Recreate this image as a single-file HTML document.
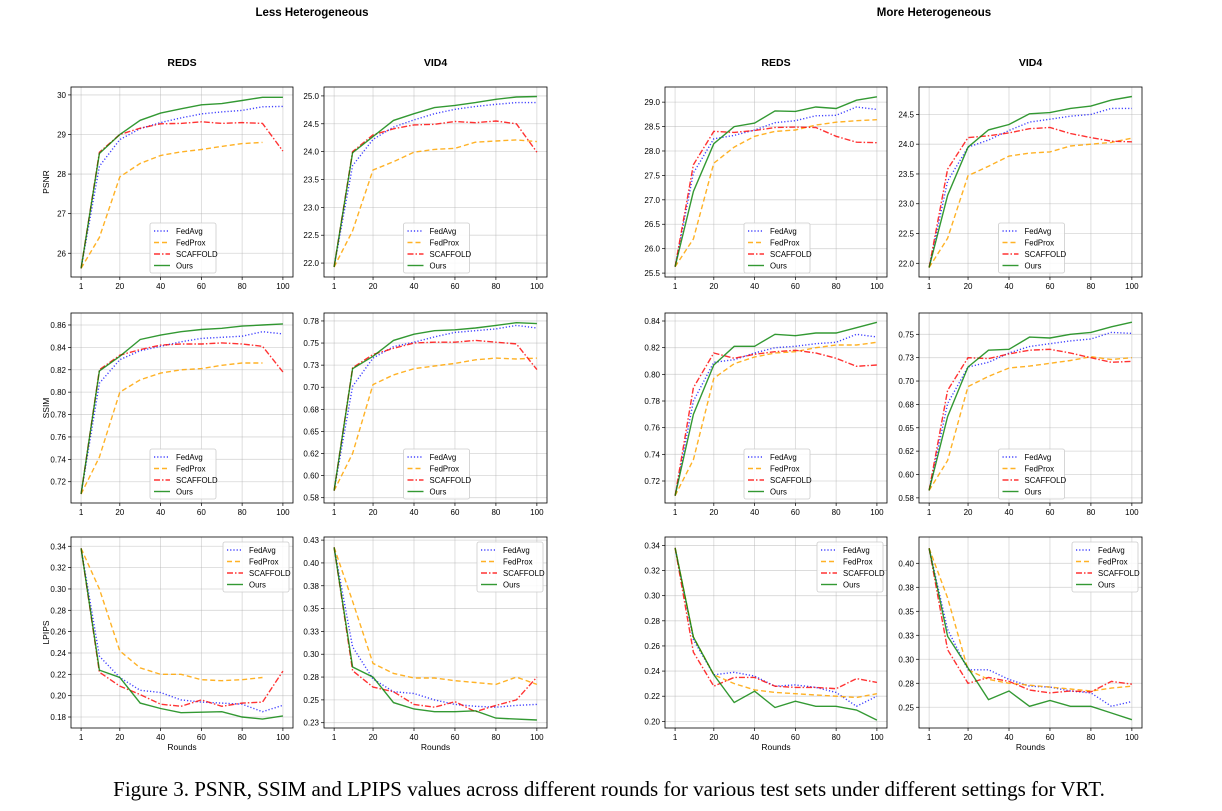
<!DOCTYPE html>
<html><head><meta charset="utf-8"><style>
body{margin:0;background:#fff;width:1222px;height:811px;overflow:hidden}
svg{display:block}
text{font-family:"Liberation Sans","DejaVu Sans",sans-serif}
</style></head><body>
<svg id="fig" width="1222" height="811" viewBox="0 0 1222 811" xmlns="http://www.w3.org/2000/svg">
<text x="312" y="16" text-anchor="middle" font-size="11.5" font-weight="bold">Less Heterogeneous</text>
<text x="934" y="16" text-anchor="middle" font-size="11.5" font-weight="bold">More Heterogeneous</text>
<text x="609" y="796" text-anchor="middle" font-size="21" style="font-family:'Liberation Serif',serif">Figure 3. PSNR, SSIM and LPIPS values across different rounds for various test sets under different settings for VRT.</text>
</svg>
<script>
const rounds=[1,10,20,30,40,50,60,70,80,90,100];
const xTicks=[1,20,40,60,80,100];
const methods=["FedAvg","FedProx","SCAFFOLD","Ours"];
// P1 REDS less PSNR
const p1FedAvg=[25.62,28.2,28.87,29.15,29.3,29.42,29.52,29.57,29.61,29.7,29.71];
const p1FedProx=[25.62,26.4,27.93,28.27,28.47,28.56,28.62,28.7,28.77,28.8,null];
const p1Scaffold=[25.62,28.55,29.0,29.16,29.27,29.28,29.32,29.28,29.3,29.28,28.58];
const p1Ours=[25.62,28.52,29.0,29.36,29.54,29.65,29.75,29.78,29.86,29.94,29.94];
const p1Ticks=[26,27,28,29,30];const p1Labels=["26","27","28","29","30"];
// P2 VID4 less PSNR
const p2FedAvg=[21.93,23.75,24.22,24.44,24.57,24.68,24.76,24.81,24.85,24.88,24.88];
const p2FedProx=[21.93,22.58,23.67,23.82,23.99,24.04,24.06,24.17,24.19,24.21,24.18];
const p2Scaffold=[21.93,24.0,24.3,24.41,24.48,24.49,24.54,24.52,24.55,24.5,23.99];
const p2Ours=[21.93,23.98,24.27,24.56,24.68,24.79,24.83,24.88,24.94,24.98,24.99];
const p2Ticks=[22,22.5,23,23.5,24,24.5,25];const p2Labels=["22.0","22.5","23.0","23.5","24.0","24.5","25.0"];
// P3 REDS more PSNR
const p3FedAvg=[25.63,27.55,28.25,28.32,28.43,28.58,28.62,28.72,28.73,28.9,28.85];
const p3FedProx=[25.63,26.2,27.75,28.08,28.3,28.4,28.43,28.53,28.59,28.62,28.64];
const p3Scaffold=[25.63,27.72,28.4,28.38,28.42,28.48,28.49,28.48,28.3,28.18,28.17];
const p3Ours=[25.63,27.17,28.15,28.5,28.57,28.82,28.81,28.9,28.87,29.04,29.11];
const p3Ticks=[25.5,26,26.5,27,27.5,28,28.5,29];const p3Labels=["25.5","26.0","26.5","27.0","27.5","28.0","28.5","29.0"];
// P4 VID4 more PSNR
const p4FedAvg=[21.93,23.38,23.95,24.07,24.23,24.37,24.42,24.47,24.5,24.6,24.6];
const p4FedProx=[21.93,22.42,23.47,23.63,23.8,23.85,23.87,23.97,24.0,24.03,24.1];
const p4Scaffold=[21.93,23.58,24.11,24.14,24.19,24.26,24.28,24.18,24.11,24.05,24.04];
const p4Ours=[21.93,23.14,23.95,24.24,24.33,24.51,24.53,24.6,24.64,24.74,24.8];
const p4Ticks=[22,22.5,23,23.5,24,24.5];const p4Labels=["22.0","22.5","23.0","23.5","24.0","24.5"];
// P5 REDS less SSIM
const p5FedAvg=[0.709,0.808,0.829,0.837,0.841,0.845,0.848,0.849,0.850,0.854,0.852];
const p5FedProx=[0.709,0.742,0.800,0.811,0.817,0.820,0.821,0.824,0.826,0.826,null];
const p5Scaffold=[0.709,0.820,0.833,0.838,0.842,0.843,0.843,0.844,0.843,0.841,0.818];
const p5Ours=[0.709,0.819,0.832,0.847,0.851,0.854,0.856,0.857,0.859,0.860,0.861];
const p5Ticks=[0.72,0.74,0.76,0.78,0.80,0.82,0.84,0.86];const p5Labels=["0.72","0.74","0.76","0.78","0.80","0.82","0.84","0.86"];
// P6 VID4 less SSIM
const p6FedAvg=[0.583,0.701,0.733,0.746,0.751,0.757,0.762,0.764,0.766,0.770,0.767];
const p6FedProx=[0.583,0.625,0.703,0.714,0.721,0.724,0.727,0.731,0.733,0.732,0.733];
const p6Scaffold=[0.583,0.722,0.737,0.744,0.750,0.751,0.751,0.753,0.751,0.749,0.720];
const p6Ours=[0.583,0.721,0.735,0.753,0.760,0.764,0.765,0.767,0.770,0.773,0.772];
const p6Ticks=[0.575,0.6,0.625,0.65,0.675,0.7,0.725,0.75,0.775];const p6Labels=["0.58","0.60","0.62","0.65","0.68","0.70","0.73","0.75","0.78"];
// P7 REDS more SSIM
const p7FedAvg=[0.709,0.780,0.809,0.811,0.816,0.820,0.821,0.823,0.824,0.830,0.828];
const p7FedProx=[0.709,0.736,0.797,0.808,0.813,0.816,0.817,0.820,0.822,0.822,0.824];
const p7Scaffold=[0.709,0.790,0.816,0.812,0.815,0.817,0.818,0.816,0.812,0.806,0.807];
const p7Ours=[0.709,0.770,0.807,0.821,0.821,0.830,0.829,0.831,0.831,0.835,0.839];
const p7Ticks=[0.72,0.74,0.76,0.78,0.80,0.82,0.84];const p7Labels=["0.72","0.74","0.76","0.78","0.80","0.82","0.84"];
// P8 VID4 more SSIM
const p8FedAvg=[0.583,0.676,0.715,0.720,0.730,0.737,0.740,0.743,0.745,0.752,0.751];
const p8FedProx=[0.583,0.615,0.694,0.705,0.714,0.716,0.719,0.722,0.726,0.723,0.725];
const p8Scaffold=[0.583,0.690,0.725,0.724,0.729,0.733,0.734,0.730,0.725,0.720,0.721];
const p8Ours=[0.583,0.662,0.715,0.733,0.734,0.747,0.746,0.750,0.752,0.758,0.763];
const p8Ticks=[0.575,0.6,0.625,0.65,0.675,0.7,0.725,0.75];const p8Labels=["0.58","0.60","0.62","0.65","0.68","0.70","0.73","0.75"];
// P9 REDS less LPIPS
const p9FedAvg=[0.338,0.237,0.217,0.205,0.203,0.196,0.194,0.193,0.192,0.185,0.191];
const p9FedProx=[0.338,0.300,0.242,0.226,0.220,0.220,0.215,0.214,0.215,0.217,null];
const p9Scaffold=[0.338,0.222,0.209,0.201,0.192,0.190,0.196,0.190,0.193,0.194,0.223];
const p9Ours=[0.338,0.224,0.217,0.193,0.188,0.184,0.1845,0.185,0.180,0.178,0.181];
const p9Ticks=[0.18,0.20,0.22,0.24,0.26,0.28,0.30,0.32,0.34];const p9Labels=["0.18","0.20","0.22","0.24","0.26","0.28","0.30","0.32","0.34"];
// P10 VID4 less LPIPS
const p10FedAvg=[0.417,0.308,0.273,0.259,0.257,0.250,0.245,0.243,0.242,0.244,0.245];
const p10FedProx=[0.417,0.358,0.290,0.279,0.274,0.274,0.271,0.269,0.267,0.275,0.267];
const p10Scaffold=[0.417,0.282,0.264,0.259,0.245,0.242,0.248,0.237,0.244,0.250,0.275];
const p10Ours=[0.417,0.286,0.275,0.247,0.240,0.237,0.237,0.238,0.230,0.229,0.228];
const p10Ticks=[0.225,0.25,0.275,0.3,0.325,0.35,0.375,0.4,0.425];const p10Labels=["0.23","0.25","0.28","0.30","0.33","0.35","0.38","0.40","0.43"];
// P11 REDS more LPIPS
const p11FedAvg=[0.338,0.265,0.237,0.239,0.236,0.228,0.229,0.227,0.223,0.212,0.220];
const p11FedProx=[0.338,0.267,0.237,0.230,0.225,0.223,0.222,0.221,0.220,0.219,0.222];
const p11Scaffold=[0.338,0.255,0.228,0.235,0.235,0.228,0.227,0.227,0.226,0.234,0.231];
const p11Ours=[0.338,0.267,0.237,0.215,0.224,0.211,0.216,0.212,0.212,0.209,0.201];
const p11Ticks=[0.20,0.22,0.24,0.26,0.28,0.30,0.32,0.34];const p11Labels=["0.20","0.22","0.24","0.26","0.28","0.30","0.32","0.34"];
// P12 VID4 more LPIPS
const p12FedAvg=[0.4156,0.331,0.289,0.289,0.279,0.272,0.271,0.267,0.265,0.251,0.256];
const p12FedProx=[0.4156,0.364,0.289,0.279,0.275,0.273,0.271,0.269,0.267,0.270,0.272];
const p12Scaffold=[0.4156,0.310,0.275,0.281,0.277,0.268,0.265,0.267,0.266,0.277,0.274];
const p12Ours=[0.4156,0.324,0.291,0.258,0.267,0.251,0.257,0.251,0.251,0.244,0.237];
const p12Ticks=[0.25,0.275,0.3,0.325,0.35,0.375,0.4];const p12Labels=["0.25","0.28","0.30","0.33","0.35","0.38","0.40"];

const NS="http://www.w3.org/2000/svg";
const svg=document.getElementById('fig');
function mk(tag,attrs,parent){const e=document.createElementNS(NS,tag);for(const k in attrs)e.setAttribute(k,attrs[k]);(parent||svg).appendChild(e);return e;}
const styles=[
 {stroke:"rgba(0,0,255,0.75)",dash:"1.2,2"},
 {stroke:"rgba(255,165,0,0.85)",dash:"5,3"},
 {stroke:"rgba(255,0,0,0.8)",dash:"6,2,1.5,2"},
 {stroke:"rgba(0,128,0,0.8)",dash:""}];
const cols=[[71,293],[324,547],[665,887],[919,1142]];
const rowsY=[[87,277],[313,503],[537,728]];
const plots=[
 {c:0,r:0,ymin:25.4,ymax:30.2,s:[p1FedAvg,p1FedProx,p1Scaffold,p1Ours],t:p1Ticks,l:p1Labels,yl:"PSNR",title:"REDS"},
 {c:1,r:0,ymin:21.75,ymax:25.16,s:[p2FedAvg,p2FedProx,p2Scaffold,p2Ours],t:p2Ticks,l:p2Labels,title:"VID4"},
 {c:2,r:0,ymin:25.42,ymax:29.31,s:[p3FedAvg,p3FedProx,p3Scaffold,p3Ours],t:p3Ticks,l:p3Labels,title:"REDS"},
 {c:3,r:0,ymin:21.77,ymax:24.96,s:[p4FedAvg,p4FedProx,p4Scaffold,p4Ours],t:p4Ticks,l:p4Labels,title:"VID4"},
 {c:0,r:1,ymin:0.701,ymax:0.8707,s:[p5FedAvg,p5FedProx,p5Scaffold,p5Ours],t:p5Ticks,l:p5Labels,yl:"SSIM"},
 {c:1,r:1,ymin:0.569,ymax:0.784,s:[p6FedAvg,p6FedProx,p6Scaffold,p6Ours],t:p6Ticks,l:p6Labels},
 {c:2,r:1,ymin:0.7035,ymax:0.846,s:[p7FedAvg,p7FedProx,p7Scaffold,p7Ours],t:p7Ticks,l:p7Labels},
 {c:3,r:1,ymin:0.5695,ymax:0.7728,s:[p8FedAvg,p8FedProx,p8Scaffold,p8Ours],t:p8Ticks,l:p8Labels},
 {c:0,r:2,ymin:0.1697,ymax:0.3487,s:[p9FedAvg,p9FedProx,p9Scaffold,p9Ours],t:p9Ticks,l:p9Labels,yl:"LPIPS",xl:1,top:1},
 {c:1,r:2,ymin:0.2192,ymax:0.4284,s:[p10FedAvg,p10FedProx,p10Scaffold,p10Ours],t:p10Ticks,l:p10Labels,xl:1,top:1},
 {c:2,r:2,ymin:0.1947,ymax:0.3467,s:[p11FedAvg,p11FedProx,p11Scaffold,p11Ours],t:p11Ticks,l:p11Labels,xl:1,top:1},
 {c:3,r:2,ymin:0.2284,ymax:0.4274,s:[p12FedAvg,p12FedProx,p12Scaffold,p12Ours],t:p12Ticks,l:p12Labels,xl:1,top:1}];
const names=["reds","vid4","reds","vid4"],metrics=["psnr","ssim","lpips"],sets=["less","less","more","more"];
plots.forEach(p=>{
 const [L,R]=cols[p.c],[T,B]=rowsY[p.r];
 const pre=sets[p.c]+'-'+names[p.c]+'-'+metrics[p.r];
 const g=mk('g',{});
 
 
 const xmin=1-4.95,xmax=104.95;
 const X=v=>L+(v-xmin)/(xmax-xmin)*(R-L);
 const Y=v=>B-(v-p.ymin)/(p.ymax-p.ymin)*(B-T);
 if(p.title){const t=mk('text',{x:(L+R)/2,y:66,'text-anchor':'middle','font-size':10.5,'font-weight':'bold'},g);t.textContent=p.title;
  }
 xTicks.forEach(v=>{const x=X(v);mk('line',{x1:x,x2:x,y1:T,y2:B,stroke:'#b0b0b0','stroke-opacity':0.5,'stroke-width':0.8},g);
  mk('line',{x1:x,x2:x,y1:B,y2:B+3,stroke:'#000','stroke-width':0.7},g);
  const t=mk('text',{x:x,y:B+12,'text-anchor':'middle','font-size':8},g);t.textContent=v;
  });
 p.t.forEach((v,i)=>{const y=Y(v);mk('line',{x1:L,x2:R,y1:y,y2:y,stroke:'#b0b0b0','stroke-opacity':0.5,'stroke-width':0.8},g);
  mk('line',{x1:L-3,x2:L,y1:y,y2:y,stroke:'#000','stroke-width':0.7},g);
  const t=mk('text',{x:L-5,y:y+3,'text-anchor':'end','font-size':8},g);t.textContent=p.l[i];
  });
 p.s.forEach((ser,si)=>{let d='';ser.forEach((v,i)=>{if(v==null)return;d+=(d?'L':'M')+X(rounds[i]).toFixed(1)+','+Y(v).toFixed(1);});
  const st=styles[si];const e=mk('path',{d:d,fill:'none',stroke:st.stroke,'stroke-width':1.4,'stroke-dasharray':st.dash},g);
  });
 mk('rect',{x:L,y:T,width:R-L,height:B-T,fill:'none',stroke:'#000','stroke-width':0.8},g);
 if(p.yl){const t=mk('text',{x:0,y:0,'text-anchor':'middle','font-size':8.5,transform:`translate(${L-22},${(T+B)/2}) rotate(-90)`},g);t.textContent=p.yl;
  }
 if(p.xl){const t=mk('text',{x:(L+R)/2,y:B+22,'text-anchor':'middle','font-size':8.5},g);t.textContent='Rounds';
  }
 const lw=66,lh=50;const lx=p.top?R-4-lw:(L+R)/2-lw/2+1;const ly=p.top?T+5:B-4-lh;
 const lg=mk('g',{},g);
 mk('rect',{x:lx,y:ly,width:lw,height:lh,rx:2,fill:'#fff','fill-opacity':0.85,stroke:'#ccc','stroke-width':0.8},lg);
 methods.forEach((m,i)=>{const yy=ly+8+i*11.5;const st=styles[i];
  mk('line',{x1:lx+4,x2:lx+20,y1:yy,y2:yy,stroke:st.stroke,'stroke-width':1.4,'stroke-dasharray':st.dash},lg);
  const t=mk('text',{x:lx+26,y:yy+3,'font-size':7.8},lg);t.textContent=m;
  });
});
</script>
</body></html>
